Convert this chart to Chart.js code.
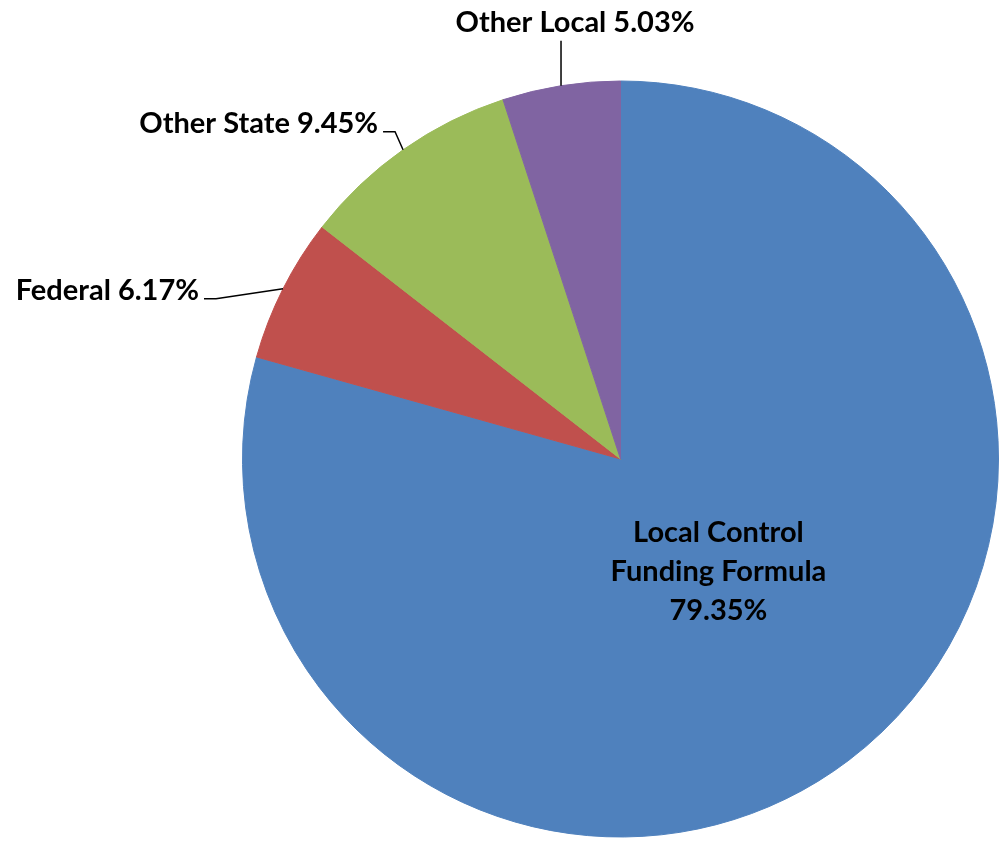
<!DOCTYPE html>
<html>
<head>
<meta charset="utf-8">
<script src="https://cdn.jsdelivr.net/npm/chart.js@4"></script>
<style>
  html, body { margin: 0; padding: 0; background: #fff; }
  #wrap { width: 999px; height: 843px; }
</style>
</head>
<body>
<div id="wrap"><canvas id="chart"></canvas></div>
<script>
let labels = ["Local Control Funding Formula", "Federal", "Other State", "Other Local"];
let values = [79.35, 6.17, 9.45, 5.03];
let colors = ["#4F81BD", "#C0504D", "#9BBB59", "#8064A2"];

let FONT = "bold 29px Lato";

// leader line + label placement, relative to the point on the rim
let outside = {
    1: { elbow: [-67, 10], end: [-79, 10], text: [-84, 11], align: "right" },
    2: { elbow: [-8, -18], end: [-20, -18], text: [-25, -17], align: "right" },
    3: { elbow: [0, -45], end: [0, -45], text: [14, -54], align: "center" }
};

let labelPlugin = {
    id: "pieLabels",
    afterDatasetsDraw(chart) {
        let c = chart.ctx;
        let meta = chart.getDatasetMeta(0);
        c.save();
        c.font = FONT;
        c.fillStyle = "#000";
        c.strokeStyle = "#000";
        c.lineWidth = 1.5;
        meta.data.forEach((arc, i) => {
            let p = arc.getProps(["x", "y", "startAngle", "endAngle", "outerRadius"], true);
            let mid = (p.startAngle + p.endAngle) / 2;
            let txt = labels[i] + " " + values[i].toFixed(2) + "%";
            if (i === 0) {
                let d = p.outerRadius * 0.42;
                let cx = p.x + Math.cos(mid) * d + 2;
                let cy = p.y + Math.sin(mid) * d;
                c.textAlign = "center";
                c.textBaseline = "alphabetic";
                let lines = ["Local Control", "Funding Formula", values[i].toFixed(2) + "%"];
                lines.forEach((l, k) => c.fillText(l, cx, cy - 44 + k * 39));
                return;
            }
            let o = outside[i];
            let ax = p.x + Math.cos(mid) * p.outerRadius;
            let ay = p.y + Math.sin(mid) * p.outerRadius;
            c.beginPath();
            c.moveTo(ax, ay);
            c.lineTo(ax + o.elbow[0], ay + o.elbow[1]);
            c.lineTo(ax + o.end[0], ay + o.end[1]);
            c.stroke();
            c.textAlign = o.align;
            c.textBaseline = "alphabetic";
            c.fillText(txt, ax + o.text[0], ay + o.text[1]);
        });
        c.restore();
    }
};

let ctx = document.getElementById("chart").getContext("2d");

let chart = new Chart(ctx, {
    type: "pie",
    data: {
        labels: labels,
        datasets: [{
            data: values,
            backgroundColor: colors,
            borderColor: colors,
            borderWidth: 1
        }]
    },
    options: {
        responsive: true,
        maintainAspectRatio: false,
        animation: false,
        layout: { padding: { left: 242, right: 0, top: 80, bottom: 5 } },
        plugins: {
            legend: { display: false },
            tooltip: { enabled: false }
        }
    },
    plugins: [labelPlugin]
});
</script>
</body>
</html>
